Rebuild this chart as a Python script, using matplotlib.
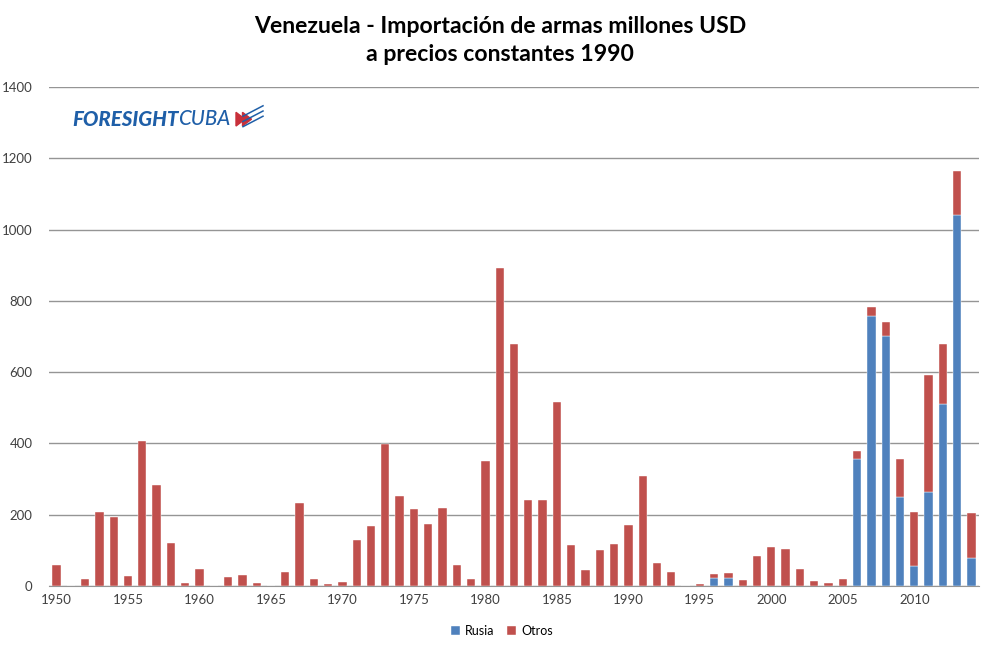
import matplotlib.pyplot as plt
from matplotlib.patches import Polygon
from matplotlib.lines import Line2D
import numpy as np

years = list(range(1950, 2015))

# total imports per year (millones USD, 1990 prices)
total = [60, 0, 20, 208, 194, 28, 407, 283, 120, 8,
         49, 0, 24, 31, 8, 0, 39, 234, 20, 7,
         10, 128, 168, 398, 253, 217, 174, 220, 58, 19,
         351, 891, 680, 241, 241, 517, 114, 45, 100, 117,
         171, 309, 64, 38, 0, 5, 34, 37, 17, 84,
         110, 104, 49, 14, 8, 20, 379, 784, 741, 356,
         208, 592, 679, 1164, 205]

rusia_years = [1996, 1997, 2006, 2007, 2008, 2009, 2010, 2011, 2012, 2013, 2014]
rusia_vals = [23, 23, 355, 758, 702, 251, 55, 263, 512, 1040, 78]

rusia = [0] * len(years)
for y, v in zip(rusia_years, rusia_vals):
    rusia[years.index(y)] = v
otros = [t - r for t, r in zip(total, rusia)]

c_rusia = '#4F81BD'
c_otros = '#C0504D'
c_logo = '#1F5FA8'
plt.rcParams['font.family'] = ['Lato', 'DejaVu Sans']

fig = plt.figure(figsize=(10, 6.53), dpi=100)
ax = fig.add_axes([0.0494, 0.1026, 0.9292, 0.7642])

x = np.arange(len(years))
ax.bar(x, rusia, width=0.58, color=c_rusia, edgecolor='white', linewidth=0.3, label='Rusia', zorder=3)
ax.bar(x, otros, width=0.58, bottom=rusia, color=c_otros, edgecolor='white', linewidth=0.3, label='Otros', zorder=3)

ax.set_xlim(-0.5, len(years) - 0.5)
ax.set_ylim(0, 1400)
ax.set_yticks(range(0, 1401, 200))
ax.grid(axis='y', color='#959595', linewidth=1.0, zorder=0)
ax.set_xticks([i for i, y in enumerate(years) if y % 5 == 0])
ax.set_xticklabels([str(y) for y in years if y % 5 == 0])
ax.tick_params(axis='both', length=0, labelsize=9.5, colors='#404040')
ax.tick_params(axis='y', pad=12)
ax.tick_params(axis='x', pad=6)
for s in ['left', 'right', 'top']:
    ax.spines[s].set_visible(False)
ax.spines['bottom'].set_color('#959595')

fig.text(0.5, 1 - 16 / 653, 'Venezuela - Importación de armas millones USD\na precios constantes 1990',
         ha='center', va='top', fontsize=16.6, fontweight='bold', linespacing=1.4)

# logo
r = fig.canvas.get_renderer()
t1 = fig.text(0.072, 0.817, 'FORESIGHT', color=c_logo, fontsize=14.8, fontweight='black',
              style='italic', va='center')
bb = t1.get_window_extent(renderer=r)
fig.text(bb.x1 / fig.bbox.width, 0.817, 'CUBA', color=c_logo, fontsize=14.8,
         fontweight='medium', style='italic', va='center')
for dx in (0.0, 0.0065):
    fig.add_artist(Polygon([[0.236 + dx, 0.828], [0.236 + dx, 0.807], [0.245 + dx, 0.8175]],
                           closed=True, transform=fig.transFigure, color='#C8303A'))
for k in range(3):
    fig.add_artist(Line2D([0.243, 0.263], [0.806 + k * 0.008, 0.822 + k * 0.008],
                          transform=fig.transFigure, color=c_logo, linewidth=1.1))

fig.legend(loc='center', bbox_to_anchor=(0.502, 0.034), ncol=2, frameon=False,
           fontsize=9, handlelength=0.7, handleheight=0.7, columnspacing=1.0,
           handletextpad=0.4)

fig.savefig('out.png', dpi=100)
